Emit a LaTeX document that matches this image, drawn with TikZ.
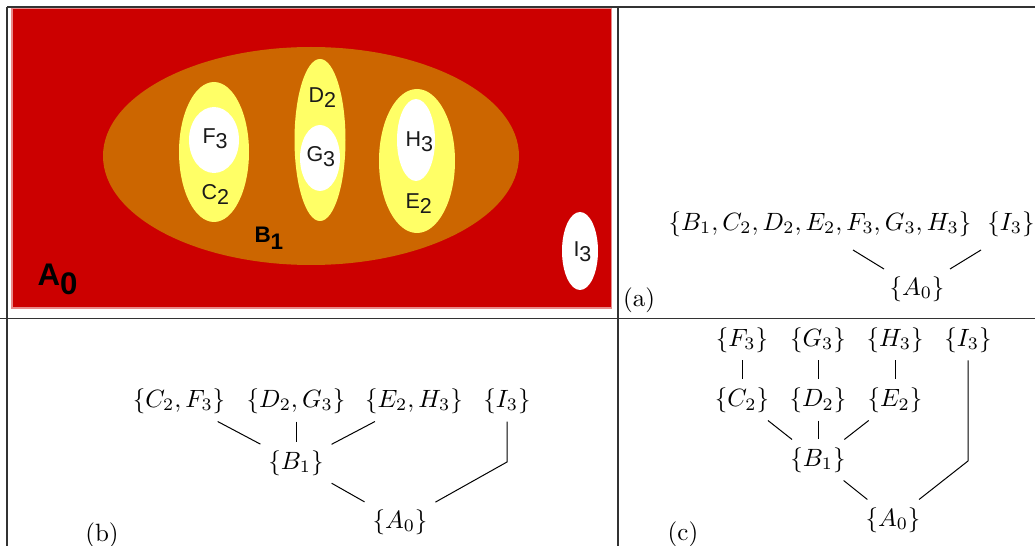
\documentclass[tikz,border=0pt]{standalone}
\usepackage{fontspec}
\newfontfamily\lab{Liberation Sans}
\usetikzlibrary{calc}
\definecolor{imgred}{HTML}{CC0000}
\definecolor{imgedge}{HTML}{E88A8A}
\definecolor{imgorange}{HTML}{CC6600}
\definecolor{imgyellow}{HTML}{FFFF66}
\definecolor{labink}{HTML}{1A1A1A}
\newcommand\lsub[2]{\raisebox{-#2}{#1}}
\begin{document}
\begin{tikzpicture}[x=0.4pt,y=-0.4pt,
  rule/.style={line width=0.45pt, draw=black!80},
  setnode/.style={inner sep=3pt},
  link/.style={line width=0.4pt},
  lbl/.style={inner sep=0pt, anchor=base west, text=labink, font=\lab\fontsize{8.6}{8.6}\selectfont},
  boldlbl/.style={lbl, text=black, font=\lab\bfseries\fontsize{9}{9}\selectfont},
  tag/.style={inner sep=0pt}]
\useasboundingbox (0,0) rectangle (1035,546);
% ---------- picture (top left) ----------
\fill[imgred, draw=imgedge, line width=0.6pt] (12,8.5) rectangle (611.5,308);
\fill[imgorange] (311,156) ellipse [x radius=208, y radius=109];
\fill[imgyellow] (214,152) ellipse [x radius=35, y radius=70];
\fill[white] (214,140) ellipse [x radius=25, y radius=33];
\fill[imgyellow] (320,140) ellipse [x radius=25.5, y radius=81];
\fill[white] (320,158) ellipse [x radius=20, y radius=33];
\fill[imgyellow] (417,161) ellipse [x radius=38, y radius=72];
\fill[white] (416,140) ellipse [x radius=19, y radius=41];
\fill[white] (580,251) ellipse [x radius=18, y radius=39];
\node[lbl] (lf) at (202,144) {F\lsub{3}{1.9pt}};
\node[lbl] (lc) at (201,199.5) {C\lsub{2}{1.9pt}};
\node[lbl] (ld) at (308,103) {D\lsub{2}{1.9pt}};
\node[lbl] (lg) at (306,162) {G\lsub{3}{1.9pt}};
\node[lbl] (lh) at (405,147) {H\lsub{3}{1.9pt}};
\node[lbl] (le) at (405,209) {E\lsub{2}{1.9pt}};
\node[lbl] (li) at (573,257) {I\lsub{3}{1.9pt}};
\node[boldlbl] (lb) at (254,243) {B\lsub{1}{2.6pt}};
\node[boldlbl, font=\lab\bfseries\fontsize{12.5}{12.5}\selectfont] (la) at (37,286) {A\lsub{0}{3.5pt}};
% ---------- table rules ----------
\draw[rule] (7,7) -- (1035,7);
\draw[rule] (0,318.5) -- (1035,318.5);
\draw[rule] (7,7) -- (7,546);
\draw[rule] (618,7) -- (618,546);
% ---------- (a) ----------
\node[setnode] (abig) at (820,224) {$\{B_1,C_2,D_2,E_2,F_3,G_3,H_3\}$};
\node[setnode] (ai) at (1011,224) {$\{I_3\}$};
\node[setnode] (aa) at (917,289) {$\{A_0\}$};
\draw[link] ($(abig.center)+(33,26)$) -- ($(aa.center)+(-33,-20)$);
\draw[link] ($(ai.center)+(-30,26)$) -- ($(aa.center)+(33,-20)$);
\node[tag] (taga) at (639,300) {(a)};
% ---------- (b) ----------
\node[setnode] (bcf) at (179,401) {$\{C_2,F_3\}$};
\node[setnode] (bdg) at (296,401) {$\{D_2,G_3\}$};
\node[setnode] (beh) at (414,401) {$\{E_2,H_3\}$};
\node[setnode] (bi) at (507,401) {$\{I_3\}$};
\node[setnode] (bb) at (296,463) {$\{B_1\}$};
\node[setnode] (ba) at (400,522) {$\{A_0\}$};
\coordinate (bk) at (507,462);
\draw[link] (bcf) -- (bb);
\draw[link] (bdg) -- (bb);
\draw[link] (beh) -- (bb);
\draw[link] (bb) -- (ba);
\draw[link] (bi) -- (bk) -- (ba);
\node[tag] (tagb) at (102,535) {(b)};
% ---------- (c) ----------
\node[setnode] (cf) at (742,340) {$\{F_3\}$};
\node[setnode] (cg) at (818,340) {$\{G_3\}$};
\node[setnode] (ch) at (895,340) {$\{H_3\}$};
\node[setnode] (ci) at (968,340) {$\{I_3\}$};
\node[setnode] (cc) at (742,400) {$\{C_2\}$};
\node[setnode] (cd) at (818,400) {$\{D_2\}$};
\node[setnode] (ce) at (895,400) {$\{E_2\}$};
\node[setnode] (cb) at (818,460) {$\{B_1\}$};
\node[setnode] (ca) at (893,520) {$\{A_0\}$};
\coordinate (ck) at (968,461);
\draw[link] (cf) -- (cc);
\draw[link] (cg) -- (cd);
\draw[link] (ch) -- (ce);
\draw[link] (cc) -- (cb);
\draw[link] (cd) -- (cb);
\draw[link] (ce) -- (cb);
\draw[link] (cb) -- (ca);
\draw[link] (ci) -- (ck) -- (ca);
\node[tag] (tagc) at (683,534) {(c)};
\end{tikzpicture}
\end{document}
